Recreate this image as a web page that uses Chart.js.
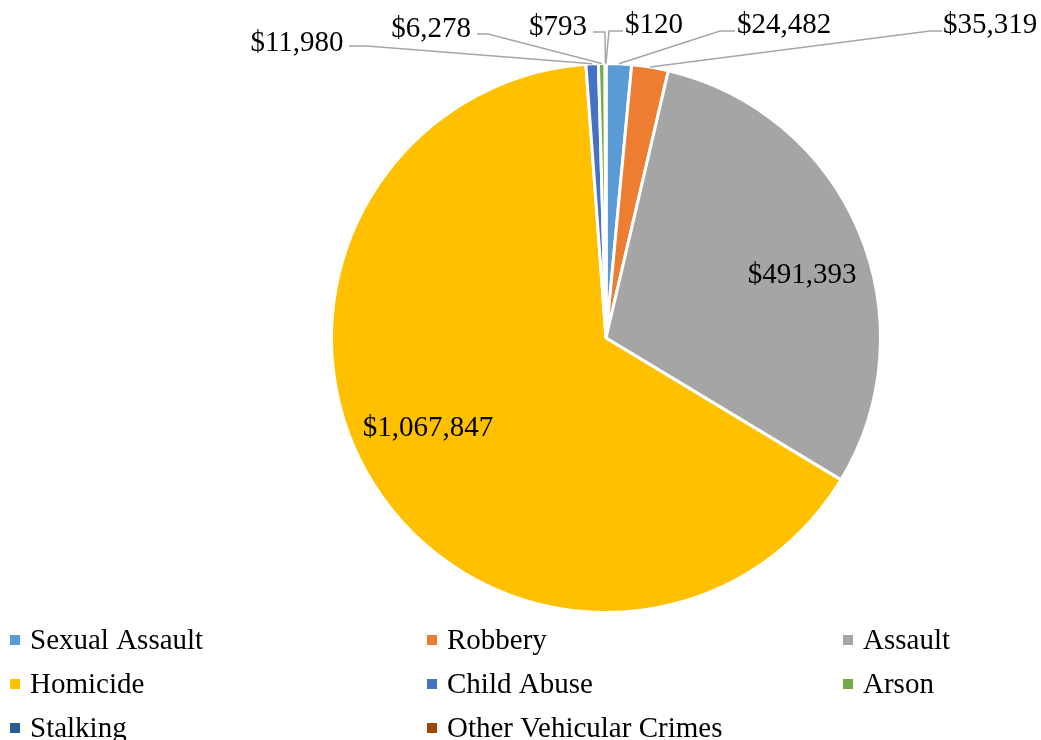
<!DOCTYPE html>
<html>
<head>
<meta charset="utf-8">
<script src="https://cdn.jsdelivr.net/npm/chart.js"></script>
<style>
  body { margin: 0; background: #fff; }
  #wrap { position: relative; width: 1041px; height: 740px; }
</style>
</head>
<body>
<div id="wrap"><canvas id="myChart"></canvas></div>
<script>
const categories = ['Sexual Assault', 'Robbery', 'Assault', 'Homicide', 'Child Abuse', 'Arson', 'Stalking', 'Other Vehicular Crimes'];
const costs = [24482, 35319, 491393, 1067847, 11980, 6278, 793, 120];
const colors = ['#5B9BD5', '#ED7D31', '#A5A5A5', '#FFC000', '#4472C4', '#70AD47', '#255E91', '#9E480E'];

// value label centres; outside ones also get a leader line (start x, elbow x, line y)
const labelSpots = [
  { x: 784, y: 25, sx: 735, ex: 720, ly: 31 },
  { x: 990, y: 25, sx: 942, ex: 930, ly: 31 },
  { x: 802, y: 275 },
  { x: 428, y: 428 },
  { x: 297, y: 43, sx: 349, ex: 367, ly: 46 },
  { x: 431, y: 29, sx: 477, ex: 488, ly: 34 },
  { x: 558, y: 27, sx: 593, ex: 605, ly: 32 },
  { x: 654, y: 25, sx: 623, ex: 609, ly: 31 }
];
const legendCols = [10, 427, 843];
const legendRows = [641, 685, 729];

const FONT = '29px "Liberation Serif", "Times New Roman", serif';

const pieLabels = {
  id: 'pieLabels',
  afterDatasetsDraw(chart) {
    const ctx = chart.ctx;
    const arcs = chart.getDatasetMeta(0).data;
    ctx.save();
    ctx.font = FONT;
    ctx.textAlign = 'center';
    ctx.textBaseline = 'middle';
    arcs.forEach((arc, i) => {
      const spot = labelSpots[i];
      if (spot.sx !== undefined) {
        const p = arc.getProps(['x', 'y', 'startAngle', 'endAngle', 'outerRadius'], true);
        const mid = (p.startAngle + p.endAngle) / 2;
        const r = p.outerRadius;
        ctx.strokeStyle = '#a6a6a6';
        ctx.lineWidth = 1.5;
        ctx.beginPath();
        ctx.moveTo(spot.sx, spot.ly);
        ctx.lineTo(spot.ex, spot.ly);
        ctx.lineTo(p.x + Math.cos(mid) * r, p.y + Math.sin(mid) * r);
        ctx.stroke();
      }
      ctx.fillStyle = '#000';
      ctx.fillText('$' + costs[i].toLocaleString('en-US'), spot.x, spot.y);
    });
    ctx.restore();
  },
  afterDraw(chart) {
    const ctx = chart.ctx;
    ctx.save();
    ctx.font = FONT;
    ctx.textAlign = 'left';
    ctx.textBaseline = 'middle';
    categories.forEach((name, i) => {
      const x = legendCols[i % 3];
      const y = legendRows[Math.floor(i / 3)];
      ctx.fillStyle = colors[i];
      ctx.fillRect(x, y - 6, 10, 10);
      ctx.fillStyle = '#000';
      ctx.fillText(name, x + 20, y);
    });
    ctx.restore();
  }
};

new Chart(document.getElementById('myChart'), {
  type: 'pie',
  data: {
    labels: categories,
    datasets: [{
      data: costs,
      backgroundColor: colors,
      borderColor: '#fff',
      borderWidth: 3,
      hoverOffset: 0
    }]
  },
  options: {
    responsive: true,
    maintainAspectRatio: false,
    animation: false,
    events: [],
    layout: { padding: { left: 330, right: 159, top: 62, bottom: 126 } },
    plugins: {
      legend: { display: false },
      tooltip: { enabled: false }
    }
  },
  plugins: [pieLabels]
});
</script>
</body>
</html>
